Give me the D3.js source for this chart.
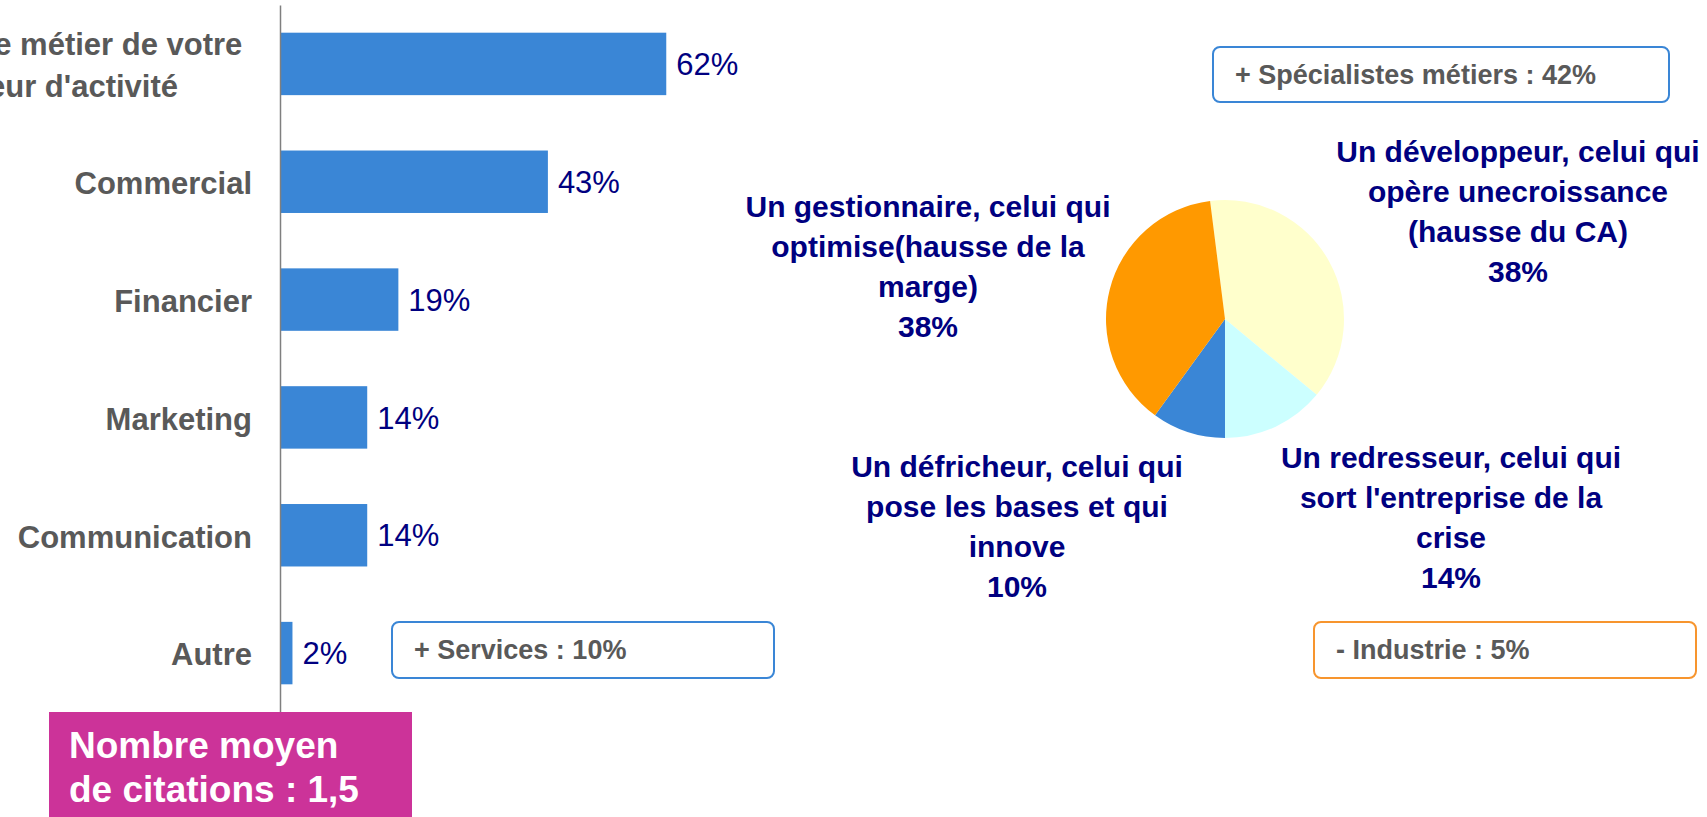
<!DOCTYPE html>
<html>
<head>
<meta charset="utf-8">
<script src="https://cdn.jsdelivr.net/npm/d3@7"></script>
<style>
  body { margin: 0; background: #fff; overflow: hidden; }
  svg { display: block; font-family: Arial, "Liberation Sans", sans-serif; }
</style>
</head>
<body>
<script>
// Données du graphique
const categories = ["Connaît le métier de votre\nsecteur d'activité", "Commercial", "Financier", "Marketing", "Communication", "Autre"];
const valeurs = [62, 43, 19, 14, 14, 2];

const profils = ["Un développeur, celui qui\nopère unecroissance\n(hausse du CA)", "Un redresseur, celui qui\nsort l'entreprise de la\ncrise", "Un défricheur, celui qui\npose les bases et qui\ninnove", "Un gestionnaire, celui qui\noptimise(hausse de la\nmarge)"];
const partsProfils = [38, 14, 10, 38];

const encadres = ["+ Services : 10%", "+ Spécialistes métiers : 42%", "- Industrie : 5%"];
const noteMoyenne = ["Nombre moyen", "de citations : 1,5"];

// Dimensions
const [w, h] = [1707, 817];
const axeX = 280;

const svg = d3.select("body").append("svg")
    .attr("width", w)
    .attr("height", h);

// Escalas
const xScale = d3.scaleLinear()
    .domain([0, 100])
    .range([axeX, axeX + 623]);

const yScale = d3.scaleBand()
    .domain(categories)
    .range([5, 712])
    .paddingInner(0.47)
    .paddingOuter(0.235);

// Barres
svg.selectAll("rect.bar")
    .data(valeurs)
    .enter()
    .append("rect")
    .attr("class", "bar")
    .attr("x", axeX)
    .attr("y", (d, i) => yScale(categories[i]))
    .attr("width", (d) => xScale(d) - axeX)
    .attr("height", yScale.bandwidth())
    .attr("fill", "#3A86D6");

// Valeurs
svg.selectAll("text.val")
    .data(valeurs)
    .enter()
    .append("text")
    .attr("class", "val")
    .attr("x", (d) => xScale(d) + 10)
    .attr("y", (d, i) => yScale(categories[i]) + yScale.bandwidth() / 2)
    .attr("dy", "0.36em")
    .attr("font-size", 31)
    .attr("fill", "#000080")
    .text((d) => d + "%");

// Axe vertical
const yAxis = d3.axisLeft(yScale).tickSize(0).tickPadding(28).tickFormat(() => "");
const gAxe = svg.append("g")
    .attr("transform", "translate(" + axeX + ",0)")
    .call(yAxis);
gAxe.select(".domain").attr("stroke", "#7f7f7f").attr("stroke-width", 1.5);

// Libellés des catégories
gAxe.selectAll(".tick text").remove();
gAxe.selectAll(".tick").each(function (d) {
    const lignes = d.split("\n");
    const t = d3.select(this).append("text")
        .attr("fill", "#595959")
        .attr("font-size", 31)
        .attr("font-weight", "bold");
    if (lignes.length === 1) {
        t.attr("x", -28).attr("dy", "0.40em").attr("text-anchor", "end").text(d);
    } else {
        t.attr("text-anchor", "middle");
        lignes.forEach((l, i) => {
            t.append("tspan").attr("y", (i - (lignes.length - 1) / 2) * 42).attr("dy", "0.40em").text(l);
        });
        // centre calé sur la fin de la 2e ligne
        const w2 = t.select("tspan:last-child").node().getComputedTextLength();
        t.selectAll("tspan").attr("x", 178 - axeX - w2 / 2);
    }
});

// Camembert
const [cx, cy, r] = [1225, 319, 119];
const pie = d3.pie().sort(null)
    .startAngle(-7.2 * Math.PI / 180)
    .endAngle(2 * Math.PI - 7.2 * Math.PI / 180);
const arc = d3.arc().innerRadius(0).outerRadius(r);
const couleursPie = ["#FFFFCC", "#CCFFFF", "#3A86D6", "#FF9900"];

svg.append("g")
    .attr("transform", "translate(" + cx + "," + cy + ")")
    .selectAll("path")
    .data(pie(partsProfils))
    .enter()
    .append("path")
    .attr("d", arc)
    .attr("fill", (d, i) => couleursPie[i]);

// Libellés du camembert
const posLabels = [[1518, 162], [1451, 468], [1017, 477], [928, 217]];
profils.forEach((p, i) => {
    const lignes = p.split("\n").concat([partsProfils[i] + "%"]);
    const t = svg.append("text")
        .attr("text-anchor", "middle")
        .attr("font-size", 30)
        .attr("font-weight", "bold")
        .attr("fill", "#000080");
    lignes.forEach((l, j) => {
        t.append("tspan")
            .attr("x", posLabels[i][0])
            .attr("y", posLabels[i][1] + j * 40)
            .text(l);
    });
});

// Encadrés
const posEncadres = [
    { x: 392, y: 622, w: 382, h: 56, c: "#3A86D6" },
    { x: 1213, y: 47, w: 456, h: 55, c: "#3A86D6" },
    { x: 1314, y: 622, w: 382, h: 56, c: "#F7952E" }
];
encadres.forEach((e, i) => {
    const b = posEncadres[i];
    svg.append("rect")
        .attr("x", b.x).attr("y", b.y)
        .attr("width", b.w).attr("height", b.h)
        .attr("rx", 7)
        .attr("fill", "#fff")
        .attr("stroke", b.c)
        .attr("stroke-width", 2);
    svg.append("text")
        .attr("x", b.x + 22)
        .attr("y", b.y + 37)
        .attr("font-size", 27)
        .attr("font-weight", "bold")
        .attr("fill", "#595959")
        .text(e);
});

// Note nombre moyen
svg.append("rect")
    .attr("x", 49).attr("y", 712)
    .attr("width", 363).attr("height", 110)
    .attr("fill", "#CC3399");
noteMoyenne.forEach((l, i) => {
    svg.append("text")
        .attr("x", 69)
        .attr("y", 758 + i * 44)
        .attr("font-size", 37)
        .attr("font-weight", "bold")
        .attr("fill", "#fff")
        .text(l);
});
</script>
</body>
</html>
